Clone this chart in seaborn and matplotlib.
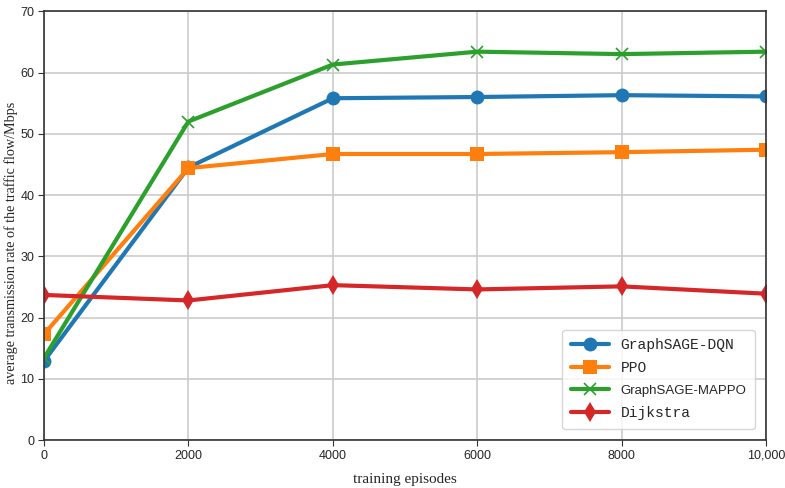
import matplotlib
matplotlib.use("Agg")
import matplotlib.pyplot as plt
import seaborn as sns
import pandas as pd
from matplotlib.ticker import FuncFormatter

episodes = [0, 2000, 4000, 6000, 8000, 10000]
dqn = [12.9, 44.5, 55.8, 56.0, 56.3, 56.1]
ppo = [17.3, 44.4, 46.7, 46.7, 47.0, 47.4]
mappo = [13.4, 52.0, 61.3, 63.4, 63.0, 63.4]
dijkstra = [23.7, 22.8, 25.3, 24.6, 25.1, 23.9]
names = ["GraphSAGE-DQN", "PPO", "GraphSAGE-MAPPO", "Dijkstra"]
series = [dqn, ppo, mappo, dijkstra]
markers = ["o", "s", "x", "d"]
colors = ["#1f77b4", "#ff7f0e", "#2ca02c", "#d62728"]

rows = []
for n, s in zip(names, series):
    for e, v in zip(episodes, s):
        rows.append({"episode": e, "rate": v, "method": n})
df = pd.DataFrame(rows)

sns.set_style("whitegrid")
plt.rcParams["font.family"] = ["Liberation Sans", "DejaVu Sans"]

fig = plt.figure(figsize=(7.85, 4.88), dpi=100)
ax = fig.add_axes([0.056, 0.098, 0.92, 0.879])

for n, m, c in zip(names, markers, colors):
    d = df[df.method == n]
    sns.lineplot(data=d, x="episode", y="rate", ax=ax, color=c, marker=m,
                 linewidth=3, markersize=10 if m != "x" else 9,
                 markeredgewidth=1.2 if m == "x" else 0,
                 markeredgecolor=c, label=n)

ax.set_xlim(0, 10000)
ax.set_ylim(0, 70)
ax.set_xticks(episodes)
ax.xaxis.set_major_formatter(FuncFormatter(lambda v, p: "10,000" if v == 10000 else f"{int(v)}"))
ax.set_yticks(range(0, 71, 10))
ax.tick_params(axis="both", labelsize=9, length=4, color="#333333", direction="out",
               bottom=True, left=True, pad=3)
for sp in ax.spines.values():
    sp.set_color("#333333")
    sp.set_linewidth(1.2)
ax.grid(True, color="#cccccc", linewidth=1.2)

ax.set_xlabel("training episodes", family="Liberation Serif", fontsize=11, labelpad=8)
ax.set_ylabel("average transmission rate of the traffic flow/Mbps", family="Liberation Serif",
              fontsize=10.2)
ax.yaxis.set_label_coords(-0.036, 0.46)

leg = ax.legend(loc="lower right", frameon=True, fontsize=10.5, handlelength=2.6,
                borderpad=0.6, labelspacing=0.6, bbox_to_anchor=(0.995, 0.01))
for t in leg.get_texts():
    if t.get_text() == "GraphSAGE-MAPPO":
        t.set_family(["Liberation Sans", "DejaVu Sans"])
        t.set_fontsize(9.5)
    else:
        t.set_family(["Liberation Mono", "DejaVu Sans Mono"])
leg.get_frame().set_edgecolor("#cccccc")

fig.savefig("out.png", dpi=100)
